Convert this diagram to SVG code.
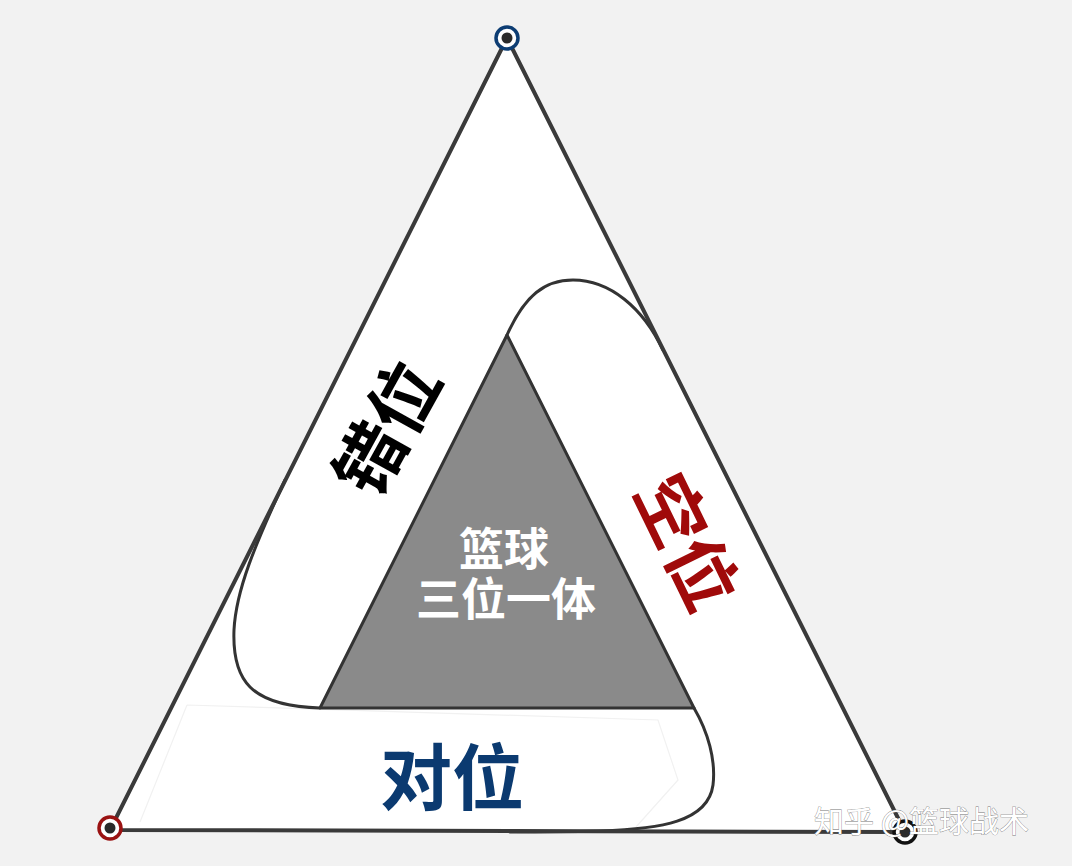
<svg xmlns="http://www.w3.org/2000/svg" width="1072" height="866" viewBox="0 0 1072 866">
<style>
.edge{fill:none;stroke:#3a3a3a;stroke-width:4;stroke-linejoin:round;stroke-linecap:round}
.curve{fill:none;stroke:#333;stroke-width:3;stroke-linecap:round}
.faint{fill:none;stroke:#f1f1f1;stroke-width:1.2}
.big{font-family:"Noto Sans CJK SC","Noto Sans",sans-serif;font-weight:700;text-anchor:middle}
.ring{fill:#fff;stroke-width:3.5}
.dot{fill:#2a2a2a}
</style>
<rect width="1072" height="866" fill="#f2f2f2"/>
<g id="outer-triangle">
<polygon points="110,830 507,38 905,832" fill="#ffffff"/>
</g>
<g id="band-duiwei">
<path class="faint" d="M187,705 L658,720 L678,780 L636,827 M187,705 L140,822"/>
<path class="curve" d="M320,708 C250,706 232,680 234,630 C236,590 255,545 285,480"/>
<text class="big" x="452" y="804" font-size="72" fill="#0b3a70">对位</text>
</g>
<g id="band-cuowei">
<path class="curve" d="M507,335 C525,295 545,280 573,280 C610,280 643,308 663,350"/>
<text class="big" transform="translate(387,428) rotate(-61)" x="0" y="26" font-size="70" fill="#000">错位</text>
</g>
<g id="band-kongwei">
<path class="curve" d="M694,708 C708,732 716,760 713,785 C708,822 660,829 600,831 C560,832 530,832 510,832"/>
<text class="big" transform="translate(687,542) rotate(64)" x="0" y="26" font-size="70" fill="#a00a0a">空位</text>
</g>
<g id="outer-edges">
<polygon class="edge" points="110,830 507,38 905,832"/>
</g>
<g id="inner-triangle">
<polygon points="507,335 320,708 694,708" fill="#8a8a8a" stroke="#333" stroke-width="3" stroke-linejoin="round"/>
<text class="big" font-size="45" fill="#ffffff"><tspan x="504" y="566">篮球</tspan><tspan x="506" y="616">三位一体</tspan></text>
</g>
<g id="connectors"></g>
<g id="vertex-top">
<circle class="ring" cx="507" cy="38" r="11" stroke="#0d3d73"/>
<circle class="dot" cx="507" cy="38" r="5.5"/>
</g>
<g id="vertex-left">
<circle class="ring" cx="110" cy="828" r="11" stroke="#9a1212"/>
<circle class="dot" cx="110" cy="828" r="5.5"/>
</g>
<g id="vertex-right">
<circle class="ring" cx="905" cy="832" r="11" stroke="#111"/>
<circle class="dot" cx="905" cy="832" r="5.5"/>
</g>
<g id="watermark">
<text x="814" y="832" font-family="Noto Sans CJK SC,sans-serif" font-size="30" fill="#ffffff" stroke="#777" stroke-width="0.7" paint-order="stroke">知乎 @篮球战术</text>
</g>
</svg>
